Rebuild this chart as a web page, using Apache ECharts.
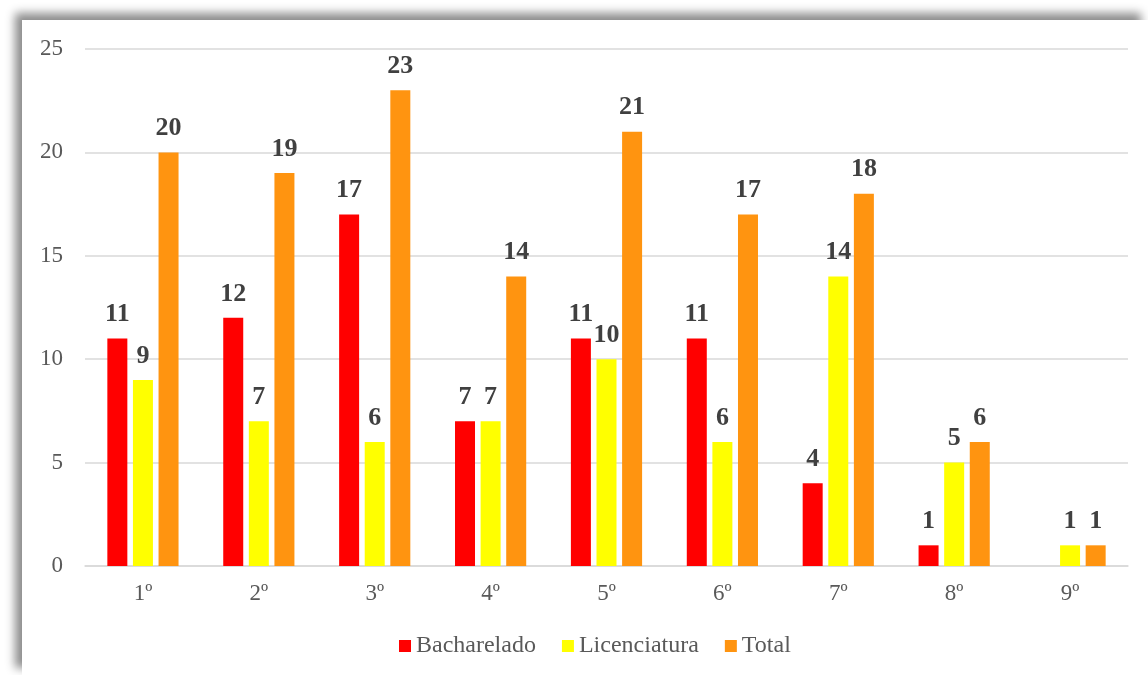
<!DOCTYPE html>
<html>
<head>
<meta charset="utf-8">
<script src="https://cdn.jsdelivr.net/npm/echarts@6/dist/echarts.min.js"></script>
<style>
  html, body { margin: 0; padding: 0; background: #ffffff; width: 1148px; height: 675px; overflow: hidden; }
  #panel {
    position: absolute; left: 22px; top: 20px; width: 1126px; height: 655px;
    background: #ffffff;
    box-shadow: -7px -7px 9px rgba(0, 0, 0, 0.45);
  }
  #chart { width: 1126px; height: 655px; }
</style>
</head>
<body>
<div id="panel"><div id="chart"></div></div>
<script>
// Semesters on the x axis
const categories = ['1º', '2º', '3º', '4º', '5º', '6º', '7º', '8º', '9º'];
// Student counts per semester (9º has no Bacharelado entry)
const bacharelado = [11, 12, 17, 7, 11, 11, 4, 1, null];
const licenciatura = [9, 7, 6, 7, 10, 6, 14, 5, 1];
const total = [20, 19, 23, 14, 21, 17, 18, 6, 1];
const yTicks = [0, 5, 10, 15, 20, 25];

const serif = '"Liberation Serif", "Times New Roman", serif';

const labelStyle = {
  show: true,
  position: 'top',
  distance: 11,
  fontFamily: serif,
  fontSize: 26,
  fontWeight: 'bold',
  color: '#404040'
};

function bar(name, data, color) {
  return {
    name: name,
    type: 'bar',
    data: data,
    barWidth: 20,
    barGap: '28%',
    itemStyle: { color: color },
    label: labelStyle
  };
}

const chart = echarts.init(document.getElementById('chart'), null, { renderer: 'canvas' });
chart.setOption({
  animation: false,
  backgroundColor: '#ffffff',
  grid: { left: 63, right: 20, top: 29, bottom: 109, containLabel: false },
  xAxis: {
    type: 'category',
    data: categories,
    axisLine: { show: true, lineStyle: { color: '#d9d9d9', width: 1.5 } },
    axisTick: { show: false },
    axisLabel: { fontFamily: serif, fontSize: 23, color: '#595959', margin: 16 }
  },
  yAxis: {
    type: 'value',
    min: yTicks[0],
    max: yTicks[yTicks.length - 1],
    interval: 5,
    axisLine: { show: false },
    axisTick: { show: false },
    splitLine: { lineStyle: { color: '#d9d9d9', width: 1.5 } },
    axisLabel: { fontFamily: serif, fontSize: 23, color: '#595959', margin: 22 }
  },
  legend: {
    left: 377,
    top: 614,
    padding: 0,
    itemWidth: 12,
    itemHeight: 12,
    itemGap: 26,
    icon: 'rect',
    textStyle: { fontFamily: serif, fontSize: 24, color: '#595959' },
    data: ['Bacharelado', 'Licenciatura', 'Total']
  },
  series: [
    bar('Bacharelado', bacharelado, '#ff0000'),
    bar('Licenciatura', licenciatura, '#ffff00'),
    bar('Total', total, '#ff9410')
  ]
});
</script>
</body>
</html>
